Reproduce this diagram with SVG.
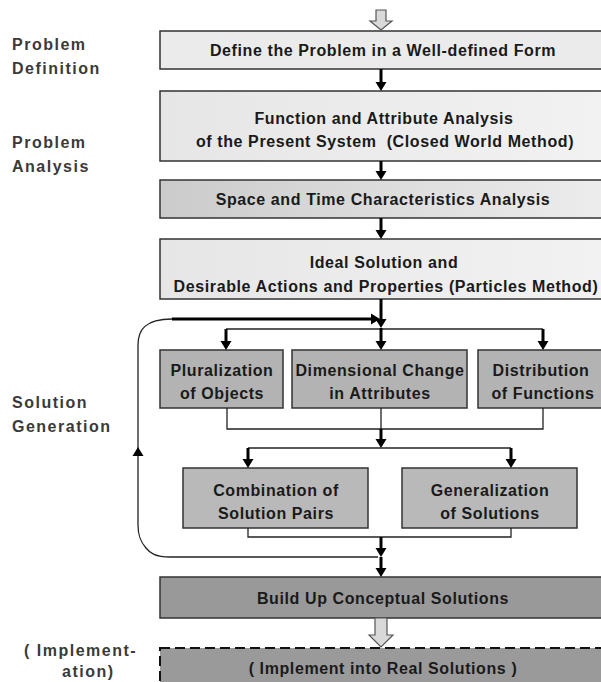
<svg xmlns="http://www.w3.org/2000/svg" xmlns:xlink="http://www.w3.org/1999/xlink" width="601" height="682" viewBox="0 0 601 682">
<style>
  .box { stroke: #333; stroke-width: 1.5; }
  .t { font-family: "Liberation Sans", Arial, sans-serif; font-weight: bold; font-size: 16px; fill: #1a1a1a; text-anchor: middle; letter-spacing: 0.6px; }
  .side { font-family: "Liberation Sans", Arial, sans-serif; font-weight: bold; font-size: 16px; fill: #3a3a3a; letter-spacing: 1.5px; }
  .thick { stroke: #000; stroke-width: 3; fill: none; }
  .thin { stroke: #222; stroke-width: 1.3; fill: none; }
  .hollow { fill: #d9d9d9; stroke: #555; stroke-width: 1.2; }
</style>
<defs>
  <linearGradient id="gLight" x1="0" y1="0" x2="1" y2="0">
    <stop offset="0" stop-color="#e6e6e6"/>
    <stop offset="1" stop-color="#f2f2f2"/>
  </linearGradient>
  <linearGradient id="gMid" x1="0" y1="0" x2="1" y2="0">
    <stop offset="0" stop-color="#cbcbcb"/>
    <stop offset="1" stop-color="#ededed"/>
  </linearGradient>
  <path id="hd" d="M-5.5,-9 L5.5,-9 L0,0 Z" fill="#000"/>
  <path id="hr" d="M-9,-5.5 L-9,5.5 L0,0 Z" fill="#000"/>
  <path id="hu" d="M-5.5,9 L5.5,9 L0,0 Z" fill="#000"/>
</defs>
<rect width="601" height="682" fill="#fff"/>

<g id="side-labels">
  <text class="side" x="12" y="50">Problem</text>
  <text class="side" x="12" y="74">Definition</text>
  <text class="side" x="12" y="148">Problem</text>
  <text class="side" x="12" y="172">Analysis</text>
  <text class="side" x="12" y="408">Solution</text>
  <text class="side" x="12" y="432">Generation</text>
  <text class="side" x="24" y="656">( Implement-</text>
  <text class="side" x="62" y="677">ation)</text>
</g>

<g id="n1">
  <rect class="box" x="160" y="31" width="445" height="38" fill="#ebebeb"/>
  <text class="t" x="383" y="56">Define the Problem in a Well-defined Form</text>
</g>
<g id="n2">
  <rect class="box" x="160" y="91" width="445" height="70" fill="url(#gLight)"/>
  <text class="t" x="384" y="124">Function and Attribute Analysis</text>
  <text class="t" x="385" y="147">of the Present System&#160; (Closed World Method)</text>
</g>
<g id="n3">
  <rect class="box" x="160" y="180" width="445" height="38" fill="url(#gMid)"/>
  <text class="t" x="383" y="205">Space and Time Characteristics Analysis</text>
</g>
<g id="n4">
  <rect class="box" x="160" y="239" width="445" height="60" fill="url(#gLight)"/>
  <text class="t" x="384" y="268">Ideal Solution and</text>
  <text class="t" x="386" y="292">Desirable Actions and Properties (Particles Method)</text>
</g>
<g id="n5">
  <rect class="box" x="160" y="350" width="123" height="58" fill="#b3b3b3"/>
  <text class="t" x="222" y="376">Pluralization</text>
  <text class="t" x="222" y="399">of Objects</text>
</g>
<g id="n6">
  <rect class="box" x="292" y="350" width="175" height="58" fill="#b3b3b3"/>
  <text class="t" x="380" y="376">Dimensional Change</text>
  <text class="t" x="380" y="399">in Attributes</text>
</g>
<g id="n7">
  <rect class="box" x="478" y="350" width="127" height="58" fill="#b3b3b3"/>
  <text class="t" x="541" y="376">Distribution</text>
  <text class="t" x="543" y="399">of Functions</text>
</g>
<g id="n8">
  <rect class="box" x="183" y="468" width="185" height="60" fill="#b9b9b9"/>
  <text class="t" x="276" y="496">Combination of</text>
  <text class="t" x="276" y="519">Solution Pairs</text>
</g>
<g id="n9">
  <rect class="box" x="402" y="468" width="175" height="60" fill="#b9b9b9"/>
  <text class="t" x="490" y="496">Generalization</text>
  <text class="t" x="490" y="519">of Solutions</text>
</g>
<g id="n10">
  <rect class="box" x="160" y="577" width="445" height="41" fill="#999999"/>
  <text class="t" x="383" y="604">Build Up Conceptual Solutions</text>
</g>
<g id="n11">
  <rect x="160" y="648" width="445" height="44" fill="#9a9a9a" stroke="#111" stroke-width="2" stroke-dasharray="10 5"/>
  <text class="t" x="383" y="674">( Implement into Real Solutions )</text>
</g>

<g id="connectors">
  <path class="hollow" d="M376,10 H386 V21 H392 L381,30 L370,21 H376 Z"/>
  <path class="hollow" d="M375,618 H387 V635 H393 L381,647 L369,635 H375 Z"/>

  <path class="thick" d="M381,69 V84"/>
  <use xlink:href="#hd" x="381" y="91"/>
  <path class="thick" d="M381,161 V173"/>
  <use xlink:href="#hd" x="381" y="180"/>
  <path class="thick" d="M381,218 V232"/>
  <use xlink:href="#hd" x="381" y="239"/>

  <path class="thick" d="M381,299 V321"/>
  <use xlink:href="#hd" x="381" y="328"/>
  <path class="thin" d="M226,329 H543"/>
  <path class="thick" d="M226,329 V343"/>
  <use xlink:href="#hd" x="226" y="350"/>
  <path class="thick" d="M381,328 V343"/>
  <use xlink:href="#hd" x="381" y="350"/>
  <path class="thick" d="M543,329 V343"/>
  <use xlink:href="#hd" x="543" y="350"/>

  <path class="thin" d="M227,408 V429 H543 V408 M381,408 V429"/>
  <path class="thick" d="M381,429 V441"/>
  <use xlink:href="#hd" x="381" y="448"/>
  <path class="thin" d="M248,448 H511"/>
  <path class="thick" d="M248,448 V461"/>
  <use xlink:href="#hd" x="248" y="468"/>
  <path class="thick" d="M511,448 V461"/>
  <use xlink:href="#hd" x="511" y="468"/>

  <path class="thin" d="M248,528 V537 H511 V528"/>
  <path class="thick" d="M381,537 V550"/>
  <use xlink:href="#hd" x="381" y="557"/>
  <path class="thick" d="M381,557 V570"/>
  <use xlink:href="#hd" x="381" y="577"/>

  <path class="thin" d="M378,557 H170 C155,557 150,553 146,548 C140,541 138,535 138,525 V345 C138,330 145,319 172,319"/>
  <use xlink:href="#hu" x="138" y="447"/>
  <path class="thick" d="M172,319 H371"/>
  <use xlink:href="#hr" x="380" y="319"/>
</g>
</svg>
